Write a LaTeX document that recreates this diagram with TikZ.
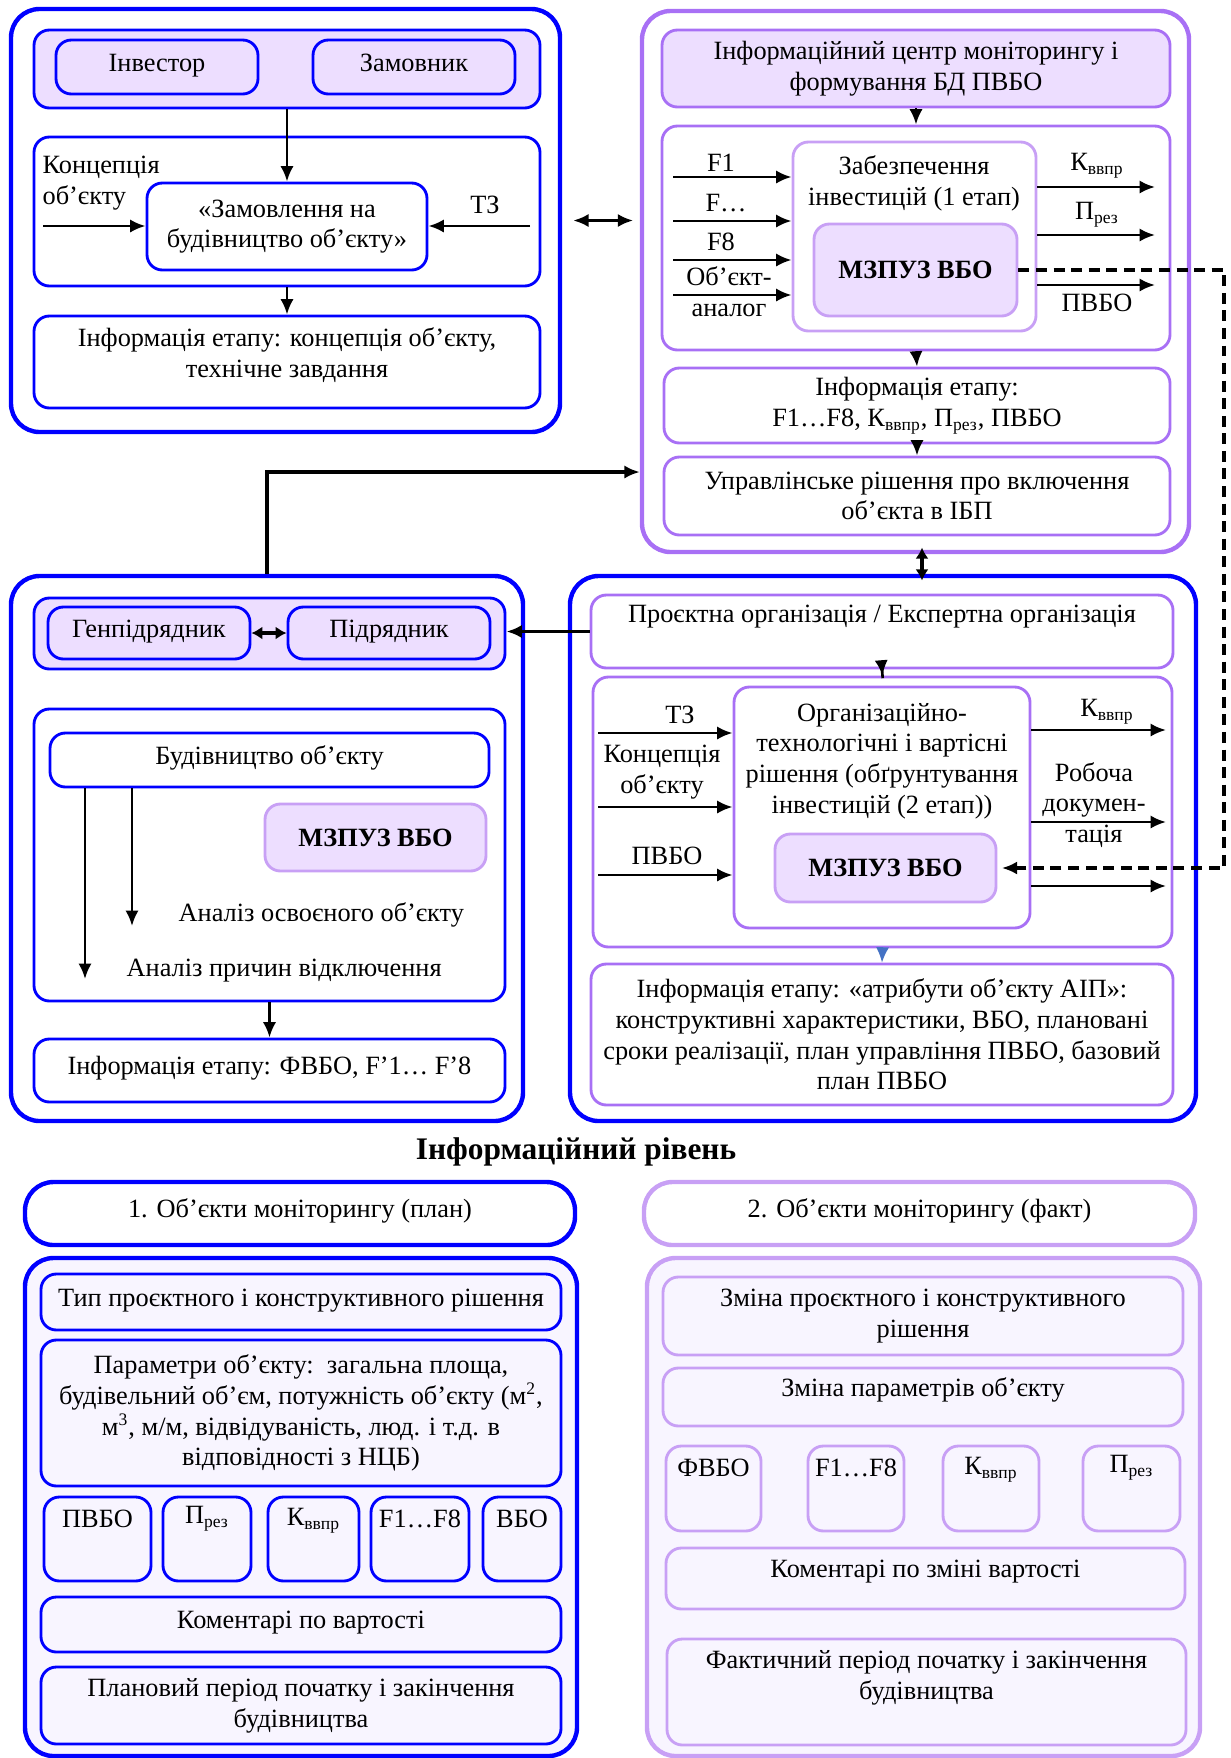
\documentclass[tikz,border=0pt]{standalone}
\usepackage{fontspec}
\setmainfont{Liberation Serif}
\usetikzlibrary{arrows.meta,positioning,calc}

\definecolor{blueln}{RGB}{0,0,255}
\definecolor{purpln}{RGB}{168,112,245}
\definecolor{lilacln}{RGB}{200,160,245}
\definecolor{lilacfill}{RGB}{237,222,255}
\definecolor{palefill}{RGB}{248,245,255}
\definecolor{tipblue}{RGB}{68,114,196}

\newcommand{\boxat}[7][]{%
  \node[#1,minimum width={(#5-#3)*0.016cm},minimum height={(#6-#4)*0.016cm}] (#2) at ({(#3+#5)/2},{(#4+#6)/2}) {#7};}

\begin{document}
\begin{tikzpicture}[x=0.016cm,y=-0.016cm,>={Latex[length=7pt,width=6pt]},
    every node/.style={font=\fontsize{12}{14}\selectfont,align=center,inner sep=1pt},
    outer/.style={draw=blueln,line width=2pt,rounded corners=13pt},
    inbox/.style={draw=blueln,line width=1.3pt,rounded corners=7pt},
    pbox/.style={inbox,draw=purpln},
    lbox/.style={inbox,draw=lilacln},
    one/.style={text height=8pt,text depth=4pt},
    mzbox/.style={lbox,fill=lilacfill,font=\fontsize{12}{14}\selectfont\bfseries},
    arr/.style={->,line width=1.2pt},
    link/.style={->,line width=1.8pt},
    dsh/.style={->,line width=1.4pt,dash pattern=on 5pt off 3pt}]

    \useasboundingbox (0,0) rectangle (1230,1758);

    % customer stage
    \boxat[outer]{bl1}{11}{9}{560}{432}{}
    \boxat[inbox,fill=lilacfill]{hdr1}{34}{30}{540}{108}{}
    \boxat[inbox,one]{inv}{56}{40}{258}{94}{Інвестор}
    \boxat[inbox,one]{zamn}{313}{40}{515}{94}{Замовник}
    \boxat[inbox]{mid1}{34}{137}{540}{286}{}
    \boxat[inbox]{zam}{147}{183}{427}{270}{«Замовлення на\\будівництво об’єкту»}
    \boxat[inbox]{info1}{34}{316}{540}{408}{}
    \node (info1-t) at ($(info1)+(0,-7)$) {Інформація етапу: концепція об’єкту,\\технічне завдання};
    \node[anchor=west,align=left] (konc1) at (40,183) {Концепція\\об’єкту};
    \node (tz1) at (485,205) {ТЗ};
    \coordinate (ci1) at (43,226);
    \coordinate (ci2) at (530,226);
    \draw[arr] (ci1) -- (ci1 -| zam.west);
    \draw[arr] (ci2) -- (ci2 -| zam.east);
    \draw[arr] (hdr1.south) -- (zam.north);
    \draw[arr] (mid1.south) -- (info1.north);

    % monitoring centre
    \boxat[outer,draw=purpln]{bl2}{642}{11}{1189}{552}{}
    \boxat[pbox,fill=lilacfill]{hdr2}{662}{30}{1170}{107}{Інформаційний центр моніторингу і\\формування БД ПВБО}
    \boxat[pbox]{mid2}{662}{126}{1170}{350}{}
    \boxat[lbox]{zab}{793}{142}{1036}{331}{}
    \node (zab-t) at (914,183) {Забезпечення\\інвестицій (1 етап)};
    \boxat[mzbox]{mz1}{814}{224}{1017}{316}{МЗПУЗ ВБО}
    \boxat[pbox]{info2}{664}{368}{1170}{443}{Інформація етапу:\\F1…F8, К\textsubscript{ввпр}, П\textsubscript{рез}, ПВБО}
    \boxat[pbox]{upr}{664}{457}{1170}{535}{Управлінське рішення про включення\\об’єкта в ІБП}
    \node (f1) at (721,163) {F1};
    \node (fdots) at (726,203) {F…};
    \node (f8) at (721,242) {F8};
    \node (analog) at (729,292) {Об’єкт-\\аналог};
    \coordinate (a1) at (673,177);
    \coordinate (a2) at (673,221);
    \coordinate (a3) at (673,260);
    \coordinate (a4) at (673,295);
    \draw[arr] (a1) -- (a1 -| zab.west);
    \draw[arr] (a2) -- (a2 -| zab.west);
    \draw[arr] (a3) -- (a3 -| zab.west);
    \draw[arr] (a4) -- (a4 -| zab.west);
    \node (kv-a) at (1097,166) {К\textsubscript{ввпр}};
    \node (pr-a) at (1097,215) {П\textsubscript{рез}};
    \node (pv-a) at (1097,303) {ПВБО};
    \coordinate (b1) at (1155,187);
    \coordinate (b2) at (1155,235);
    \coordinate (b3) at (1155,285);
    \draw[arr] (b1 -| zab.east) -- (b1);
    \draw[arr] (b2 -| zab.east) -- (b2);
    \draw[arr] (b3 -| zab.east) -- (b3);
    \draw[arr] (hdr2.south) -- (mid2.north);
    \draw[arr] (mid2.south) -- (info2.north);
    \draw[arr] (info2.south) -- (upr.north);
    \draw[link,<->,shorten <=5pt,shorten >=3pt] (bl1.east) -- (bl1.east -| bl2.west);

    % contractors
    \boxat[outer]{bl3}{11}{576}{523}{1121}{}
    \boxat[inbox,fill=lilacfill]{hdr3}{34}{598}{505}{669}{}
    \boxat[inbox,one]{gen}{48}{607}{250}{659}{Генпідрядник}
    \boxat[inbox,one]{pid}{288}{607}{490}{659}{Підрядник}
    \boxat[inbox]{mid3}{34}{709}{505}{1001}{}
    \boxat[inbox,one]{bud}{50}{733}{489}{787}{Будівництво об’єкту}
    \boxat[mzbox]{mz3}{265}{804}{486}{871}{МЗПУЗ ВБО}
    \boxat[inbox,one]{info3}{34}{1039}{505}{1102}{Інформація етапу: ФВБО, F’1… F’8}
    \node[anchor=west] (an1) at (176,915) {Аналіз освоєного об’єкту};
    \node[anchor=west] (an2) at (124,971) {Аналіз причин відключення};
    \coordinate (e1) at (85,979);
    \coordinate (e2) at (132,926);
    \draw[arr] (bud.south -| e1) -- (e1);
    \draw[arr] (bud.south -| e2) -- (e2);
    \draw[link,<->,>={Latex[length=5pt,width=6pt]}] (gen.east) -- (pid.west);
    \draw[arr] (mid3.south) -- (info3.north);
    \coordinate (kp) at (267,472);
    \draw[link] (bl3.north -| kp) |- (kp -| bl2.west);

    % design organisation
    \boxat[outer]{bl4}{570}{576}{1196}{1121}{}
    \boxat[pbox]{pro}{591}{595}{1173}{668}{}
    \node (pro-t) at (882,617) {Проєктна організація / Експертна організація};
    \boxat[pbox]{mid4}{593}{677}{1172}{947}{}
    \boxat[pbox]{org}{734}{687}{1030}{928}{}
    \node (org-t) at (882,761) {Організаційно-\\технологічні і вартісні\\рішення (обґрунтування\\інвестицій (2 етап))};
    \boxat[mzbox]{mz2}{775}{834}{996}{902}{МЗПУЗ ВБО}
    \boxat[pbox]{info4}{591}{964}{1173}{1105}{Інформація етапу: «атрибути об’єкту АІП»:\\конструктивні характеристики, ВБО, плановані\\сроки реалізації, план управління ПВБО, базовий\\план ПВБО}
    \node (tz2) at (680,715) {ТЗ};
    \node (konc2) at (662,772) {Концепція\\об’єкту};
    \node (pv-b) at (667,856) {ПВБО};
    \coordinate (c1) at (598,733);
    \coordinate (c2) at (598,807);
    \coordinate (c3) at (598,875);
    \draw[arr] (c1) -- (c1 -| org.west);
    \draw[arr] (c2) -- (c2 -| org.west);
    \draw[arr] (c3) -- (c3 -| org.west);
    \node (kv-b) at (1107,712) {К\textsubscript{ввпр}};
    \node (rob) at (1094,805) {Робоча\\докумен-\\тація};
    \coordinate (d1) at (1166,730);
    \coordinate (d2) at (1166,822);
    \coordinate (d3) at (1166,886);
    \draw[arr] (d1 -| org.east) -- (d1);
    \draw[arr] (d2 -| org.east) -- (d2);
    \draw[arr] (d3 -| org.east) -- (d3);
    \draw[arr,shorten <=-4pt] (pro.south) -- (mid4.north);
    \draw[tipblue,line width=0.8pt,-{Latex[length=7pt,width=6pt]}] (mid4.south) -- (info4.north);
    \draw[link] (pro.west) -- (pro.west -| hdr3.east);
    \coordinate (dv) at (922,560);
    \draw[link,<->,>={Latex[length=5pt,width=6pt]},shorten <=-3pt,shorten >=-3pt] (bl2.south -| dv) -- (bl4.north -| dv);
    \coordinate (dr) at (1224,560);
    \draw[dsh,shorten >=2pt] (mz1.east) -| (dr |- mz2.east) -- (mz2.east);

    \node[font=\fontsize{14.3}{16}\selectfont\bfseries] (ttl) at (576,1152) {Інформаційний рівень};

    % monitoring objects, plan
    \boxat[outer,one]{obp}{25}{1182}{575}{1245}{1. Об’єкти моніторингу (план)}
    \boxat[outer,fill=palefill]{obpl}{25}{1258}{577}{1756}{}
    \boxat[inbox,one]{typ}{41}{1274}{561}{1330}{Тип проєктного і конструктивного рішення}
    \boxat[inbox]{par}{41}{1340}{561}{1486}{Параметри об’єкту:\ \ загальна площа,\\будівельний об’єм, потужність об’єкту (м\textsuperscript{2},\\м\textsuperscript{3}, м/м, відвідуваність, люд. і т.д. в\\відповідності з НЦБ)}
    \boxat[inbox]{pv1}{44}{1497}{151}{1581}{}
    \boxat[inbox]{pr1}{163}{1497}{251}{1581}{}
    \boxat[inbox]{kv1}{268}{1497}{359}{1581}{}
    \boxat[inbox]{ff1}{371}{1497}{469}{1581}{}
    \boxat[inbox]{vb1}{483}{1497}{561}{1581}{}
    \node (pv1-t) at ($(pv1.north)+(0,23)$) {ПВБО};
    \node (pr1-t) at ($(pr1.north)+(0,23)$) {П\textsubscript{рез}};
    \node (kv1-t) at ($(kv1.north)+(0,25)$) {К\textsubscript{ввпр}};
    \node (ff1-t) at ($(ff1.north)+(0,23)$) {F1…F8};
    \node (vb1-t) at ($(vb1.north)+(0,23)$) {ВБО};
    \boxat[inbox,one]{kom1}{41}{1597}{561}{1652}{Коментарі по вартості}
    \boxat[inbox]{plan}{41}{1667}{561}{1744}{Плановий період початку і закінчення\\будівництва}

    % monitoring objects, fact
    \boxat[outer,draw=lilacln,one]{obf}{644}{1182}{1195}{1245}{2. Об’єкти моніторингу (факт)}
    \boxat[outer,draw=lilacln,fill=palefill]{obfl}{647}{1258}{1200}{1756}{}
    \boxat[lbox]{zmi}{663}{1277}{1183}{1355}{Зміна проєктного і конструктивного\\рішення}
    \boxat[lbox]{zpar}{663}{1368}{1183}{1426}{}
    \node (zpar-t) at ($(zpar)+(0,-7)$) {Зміна параметрів об’єкту};
    \boxat[lbox]{fv2}{666}{1446}{761}{1531}{}
    \boxat[lbox]{ff2}{808}{1446}{904}{1531}{}
    \boxat[lbox]{kv2}{943}{1446}{1039}{1531}{}
    \boxat[lbox]{pr2}{1083}{1446}{1180}{1531}{}
    \node (fv2-t) at ($(fv2.north)+(0,23)$) {ФВБО};
    \node (ff2-t) at ($(ff2.north)+(0,23)$) {F1…F8};
    \node (kv2-t) at ($(kv2.north)+(0,25)$) {К\textsubscript{ввпр}};
    \node (pr2-t) at ($(pr2.north)+(0,23)$) {П\textsubscript{рез}};
    \boxat[lbox]{kom2}{666}{1548}{1185}{1609}{}
    \node (kom2-t) at ($(kom2)+(0,-7)$) {Коментарі по зміні вартості};
    \boxat[lbox]{fakt}{667}{1639}{1186}{1745}{}
    \node (fakt-t) at ($(fakt)+(0,-14)$) {Фактичний період початку і закінчення\\будівництва};

\end{tikzpicture}
\end{document}
